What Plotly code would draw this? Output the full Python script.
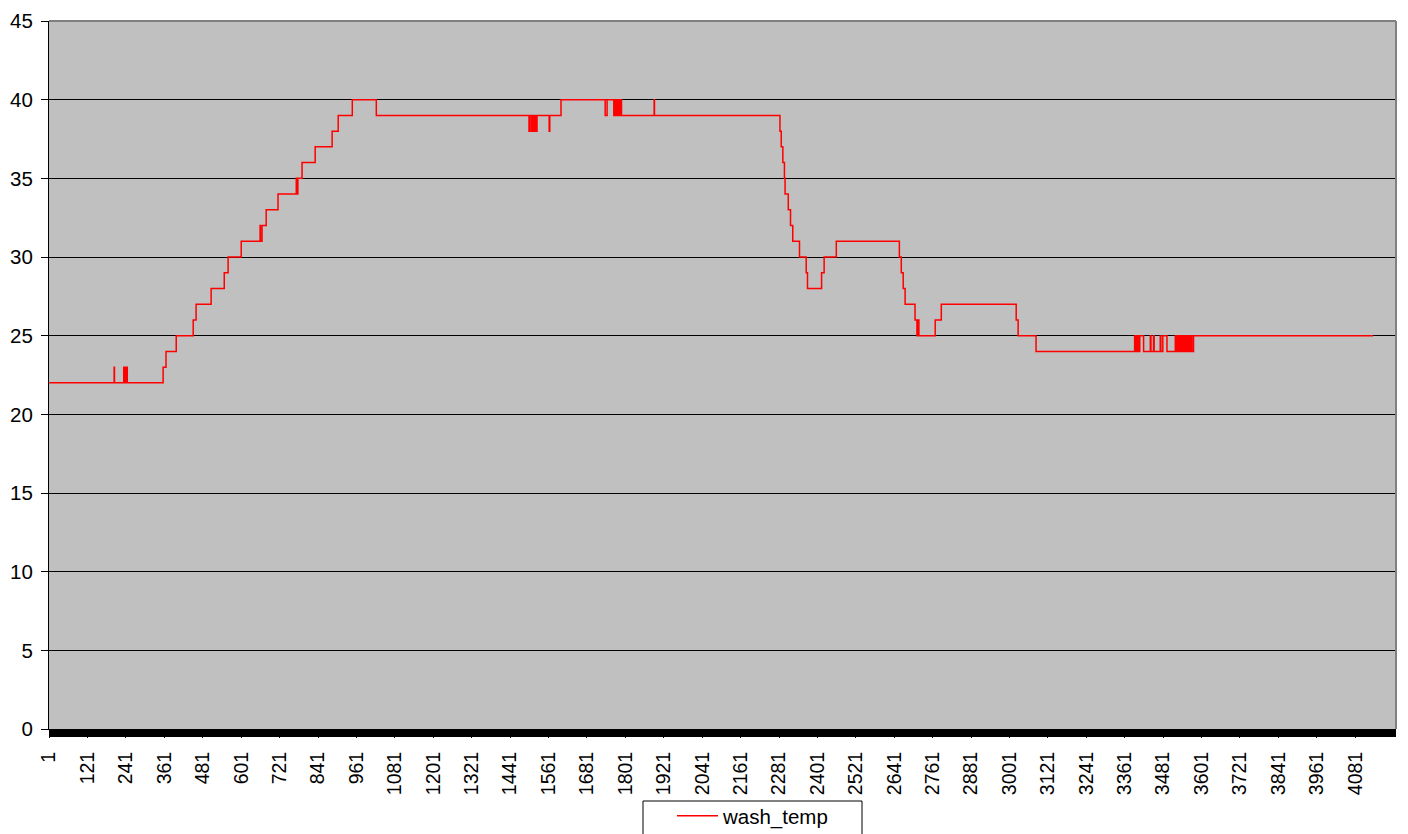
import plotly.graph_objects as go

# wash_temp readings: sample index where the value changes, and the new value
change_idx = [
    1, 204, 205,
    234, 236, 237, 239, 240, 242, 243, 245,
    357, 366, 398, 451, 460, 507, 548, 560, 601,
    660, 661, 666, 679, 716, 773, 776, 778, 791, 832, 885, 904, 948, 1023,
    1500, 1502, 1507, 1509, 1513, 1515, 1517, 1519, 1521, 1525,
    1563, 1565, 1600, 1738, 1744,
    1765, 1767, 1769, 1771, 1773, 1775, 1777, 1779, 1781, 1783, 1785, 1787, 1789,
    1891, 1892,
    2284, 2288, 2293, 2298, 2300, 2310, 2317, 2324, 2345, 2366, 2370, 2414, 2422, 2460,
    2657, 2663, 2669, 2675, 2706, 2712, 2716, 2718, 2769, 2788, 3022, 3028, 3084,
    3392, 3394, 3396, 3398, 3400, 3402, 3404, 3406, 3408, 3420, 3441, 3443, 3451, 3453,
    3472, 3474, 3480, 3493,
    3519, 3521, 3523, 3525, 3527, 3529, 3531, 3533, 3535, 3537, 3540, 3542, 3545, 3547,
    3549, 3551, 3553, 3555, 3557, 3559, 3561, 3563, 3565, 3567, 3569, 3571, 3576,
    4137,
]
change_val = [
    22, 23, 22,
    23, 22, 23, 22, 23, 22, 23, 22,
    23, 24, 25, 26, 27, 28, 29, 30, 31,
    32, 31, 32, 33, 34, 35, 34, 35, 36, 37, 38, 39, 40, 39,
    38, 39, 38, 39, 38, 39, 38, 39, 38, 39,
    38, 39, 40, 39, 40,
    39, 40, 39, 40, 39, 40, 39, 40, 39, 40, 39, 40, 39,
    40, 39,
    38, 37, 36, 35, 34, 33, 32, 31, 30, 29, 28, 29, 30, 31,
    30, 29, 28, 27, 26, 25, 26, 25, 26, 27, 26, 25, 24,
    25, 24, 25, 24, 25, 24, 25, 24, 25, 24, 25, 24, 25, 24,
    25, 24, 25, 24,
    25, 24, 25, 24, 25, 24, 25, 24, 25, 24, 25, 24, 25, 24,
    25, 24, 25, 24, 25, 24, 25, 24, 25, 24, 25, 24, 25,
    25,
]

n_categories = 4208
x_tick_labels = [
    "1", "121", "241", "361", "481", "601", "721", "841", "961", "1081",
    "1201", "1321", "1441", "1561", "1681", "1801", "1921", "2041", "2161",
    "2281", "2401", "2521", "2641", "2761", "2881", "3001", "3121", "3241",
    "3361", "3481", "3601", "3721", "3841", "3961", "4081",
]
y_ticks = [0, 5, 10, 15, 20, 25, 30, 35, 40, 45]

FONT = "Liberation Sans, Arial, sans-serif"
fig = go.Figure()
fig.add_trace(go.Scatter(
    x=change_idx, y=change_val, mode="lines", name="wash_temp",
    line=dict(color="#ff0000", width=1.5, shape="hv"),
))

plot_h = 834 - 21 - 105
fig.update_layout(
    width=1408, height=834,
    margin=dict(l=49, r=12, t=21, b=105, autoexpand=False),
    paper_bgcolor="white", plot_bgcolor="#c0c0c0",
    font=dict(family=FONT, size=20.5, color="black"),
    showlegend=True,
    legend=dict(
        orientation="h", x=(672 - 49) / 1347, xanchor="left",
        y=(729 - 796) / plot_h, yanchor="top",
        bgcolor="rgba(0,0,0,0)", borderwidth=0,
        font=dict(family=FONT, size=20.5), itemwidth=41,
    ),
    xaxis=dict(
        range=[0.5, n_categories + 0.5], showgrid=False, zeroline=False,
        showline=True, linecolor="black", linewidth=1,
        tickmode="array",
        tickvals=[int(t) for t in x_tick_labels], ticktext=x_tick_labels,
        tickangle=-90, ticks="outside", ticklen=8, tickcolor="black",
        tickfont=dict(family=FONT, size=19.5),
        ticklabelstandoff=6, automargin=False,
    ),
    yaxis=dict(
        range=[0, 45], tickmode="array", tickvals=y_ticks,
        ticktext=[str(v) for v in y_ticks],
        showgrid=True, gridcolor="black", gridwidth=1, zeroline=False,
        showline=True, linecolor="black", linewidth=1,
        ticks="outside", ticklen=7, tickcolor="black",
        ticklabelstandoff=4, automargin=False,
    ),
    shapes=[
        # dense category tick band under the x axis
        dict(type="rect", xref="paper", yref="paper", x0=0, x1=1,
             y0=-8 / plot_h, y1=0, fillcolor="black", line=dict(width=0)),
        # grey plot-area border on top and right
        dict(type="line", xref="paper", yref="paper", x0=0, x1=1, y0=1, y1=1,
             line=dict(color="#808080", width=2), layer="above"),
        dict(type="line", xref="paper", yref="paper", x0=1, x1=1, y0=0, y1=1,
             line=dict(color="#808080", width=2), layer="above"),
        # legend frame
        dict(type="rect", xref="paper", yref="paper",
             x0=(643 - 49) / 1347, x1=(862 - 49) / 1347,
             y0=(729 - 845) / plot_h, y1=(729 - 801) / plot_h,
             fillcolor="white", line=dict(color="black", width=1), layer="below"),
    ],
)

fig.write_html("out.html")
